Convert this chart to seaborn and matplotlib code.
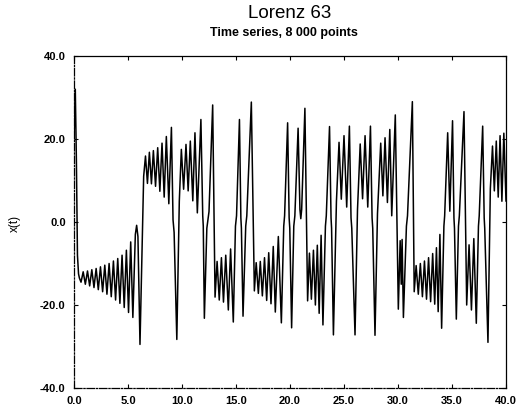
import pandas as pd
import seaborn as sns
import matplotlib.pyplot as plt

# turning points of x(t)
t_pts = [
    0.00, 0.12, 0.22, 0.32, 0.42, 0.50,
    0.65, 0.85, 1.05, 1.25, 1.45, 1.65, 1.85, 2.05, 2.25, 2.45, 2.65, 2.85,
    3.05, 3.25, 3.45, 3.65, 3.85, 4.05, 4.25, 4.45, 4.65, 4.85, 5.05, 5.25,
    5.45, 5.68, 5.80, 5.92, 6.11, 6.45,
    6.62, 6.80, 6.98, 7.17, 7.35, 7.55, 7.75, 7.95, 8.15, 8.35, 8.55, 8.78,
    9.02, 9.17, 9.27, 9.52,
    9.75, 9.94, 10.15, 10.37, 10.57, 10.77, 11.00, 11.20, 11.42, 11.75, 11.92,
    11.97, 12.07, 12.30, 12.50, 12.84,
    13.06, 13.25, 13.45, 13.65, 13.84, 14.05, 14.29, 14.50, 14.75, 14.95,
    15.05, 15.32, 15.45, 15.50, 15.65, 15.90, 16.00, 16.42,
    16.70, 16.87, 17.07, 17.25, 17.44, 17.64, 17.84, 18.03, 18.24, 18.45,
    18.64, 18.92, 19.20, 19.42, 19.50, 19.78, 19.92, 19.98, 20.15, 20.35,
    20.45, 20.75, 20.92, 21.00, 21.08, 21.38,
    21.63, 21.80, 21.98, 22.17, 22.35, 22.53, 22.70, 22.88, 23.05, 23.28,
    23.36, 23.66, 23.80, 23.85, 24.02,
    24.30, 24.54, 24.75, 25.00, 25.25, 25.50, 25.65, 25.72, 26.02,
    26.25, 26.50, 26.72, 26.95, 27.20, 27.45, 27.60, 27.66, 27.87,
    28.10, 28.40, 28.60, 28.80, 29.02, 29.24, 29.42, 29.75, 30.03, 30.20,
    30.30, 30.38, 30.50, 30.78, 30.88, 31.33,
    31.50, 31.68, 31.88, 32.07, 32.26, 32.45, 32.64, 32.83, 33.02, 33.21,
    33.40, 33.56, 33.72, 33.88, 34.04, 34.25, 34.32, 34.60, 34.80, 35.05,
    35.18, 35.23, 35.40, 35.60, 35.68, 36.11,
    36.36, 36.58, 36.80, 37.02, 37.25, 37.45, 37.52, 37.84, 37.98, 38.03,
    38.33,
    38.55, 38.75, 38.92, 39.10, 39.28, 39.45, 39.62, 39.80, 40.00,
]
x_pts = [
    20.0, 32.0, 15.0, -8.0, -12.5, -13.5,
    -14.5, -12.0, -15.0, -11.8, -15.4, -11.5, -15.8, -11.2, -16.3, -10.8, -16.8, -10.4,
    -17.4, -10.0, -18.0, -9.4, -18.8, -8.8, -19.6, -8.0, -20.6, -6.8, -21.8, -4.8,
    -23.0, -3.0, -0.8, -3.5, -29.5, 11.0,
    15.9, 9.3, 16.8, 9.2, 17.2, 8.6, 17.9, 7.4, 19.0, 6.0, 20.6, 4.4,
    22.8, 0.5, -2.5, -28.3,
    5.0, 17.5, 7.9, 18.7, 7.5, 19.5, 5.1, 21.5, 2.2, 24.7, 1.5,
    -1.0, -23.2, -1.5, 2.5, 28.2,
    -18.1, -9.5, -18.8, -8.6, -19.3, -8.0, -21.2, -6.5, -24.1, -1.0,
    1.5, 24.7, 1.0, -1.5, -22.7, -1.0, 1.5, 28.9,
    -16.6, -9.8, -17.2, -9.5, -17.8, -8.6, -18.9, -7.4, -19.7, -5.9,
    -21.7, -3.5, -24.3, -1.0, 1.5, 23.9, 1.0, -1.5, -25.5, -1.0,
    1.5, 22.6, 3.0, 0.8, 3.0, 27.4,
    -19.0, -7.5, -18.6, -6.8, -20.0, -5.6, -22.0, -3.2, -24.8, -1.0,
    1.5, 23.0, 1.0, -1.5, -27.2,
    5.0, 19.2, 5.5, 20.8, 3.6, 23.1, 1.0, -1.5, -27.2,
    3.0, 18.8, 5.6, 20.8, 3.6, 23.1, 1.0, -1.5, -27.3,
    2.0, 19.0, 6.3, 20.3, 4.7, 22.3, 1.5, 25.8, -21.0, -4.5,
    -15.0, -4.2, -23.0, -1.0, 1.5, 29.0,
    -16.8, -10.5, -17.4, -10.0, -18.0, -9.4, -18.6, -8.6, -19.2, -7.6,
    -19.8, -6.2, -21.6, -3.0, -25.6, -1.0, 1.5, 21.5, 2.6, 24.4,
    1.0, -1.5, -23.4, -1.0, 1.5, 26.6,
    -20.0, -5.5, -21.2, -4.0, -24.4, -1.0, 1.5, 23.1, 1.0, -1.5,
    -29.0,
    8.0, 18.3, 7.5, 19.5, 6.0, 20.8, 5.0, 21.4, 5.0,
]

x_ticks = [0, 5, 10, 15, 20, 25, 30, 35, 40]
y_ticks = [-40, -20, 0, 20, 40]

df = pd.DataFrame({"t": t_pts, "x": x_pts})

sns.set_style("white")
plt.rcParams["font.family"] = ["Liberation Sans", "DejaVu Sans"]
plt.rcParams["text.color"] = "black"

fig = plt.figure(figsize=(5.17, 4.12), dpi=100)
ax = fig.add_axes([74 / 517, 1 - 388 / 412, 432 / 517, 332 / 412])

sns.lineplot(data=df, x="t", y="x", sort=False, estimator=None,
             color="black", linewidth=1.1, ax=ax)

ax.set_xlim(0, 40)
ax.set_ylim(-40, 40)
ax.set_xticks(x_ticks)
ax.set_yticks(y_ticks)
ax.set_xticklabels([f"{v:.1f}" for v in x_ticks], fontsize=8, fontweight="bold")
ax.set_yticklabels([f"{v:.1f}" for v in y_ticks], fontsize=8, fontweight="bold")
ax.tick_params(direction="in", length=3, width=0.8, top=True, right=True,
               bottom=True, left=True, colors="black")
ax.tick_params(axis="x", pad=6)
ax.tick_params(axis="y", pad=6)
ax.set_xlabel("")
ax.set_ylabel("")

for side in ["top", "right"]:
    ax.spines[side].set_color("black")
    ax.spines[side].set_linewidth(0.9)
for side in ["left", "bottom"]:
    ax.spines[side].set_color("black")
    ax.spines[side].set_linewidth(0.9)
    ax.spines[side].set_linestyle((0, (6, 1.5, 1, 1.5)))

fig.text(290 / 517, 1 - 14 / 412, "Lorenz 63", ha="center", va="center",
         fontsize=13.5, color="black")
fig.text(284 / 517, 1 - 33 / 412, "Time series, 8 000 points", ha="center",
         va="center", fontsize=9, fontweight="bold", color="black")
fig.text(15 / 517, 1 - 223 / 412, "x(t)", ha="center", va="center",
         rotation=90, fontsize=8.5, color="black")

fig.savefig("out.png", dpi=100)
